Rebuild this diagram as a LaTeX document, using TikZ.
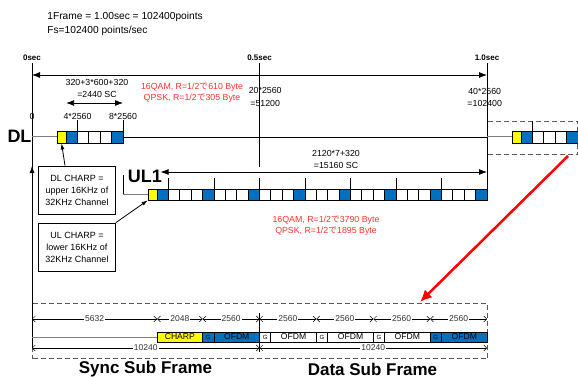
\documentclass[tikz,border=0pt]{standalone}
\usepackage{fontspec}
\setmainfont{Liberation Sans}
\newfontfamily\cjk{Noto Sans CJK JP}
\usepackage{tikz}
\usetikzlibrary{arrows.meta, positioning, calc}
\definecolor{fblue}{HTML}{0070C0}
\definecolor{fyellow}{HTML}{FFFF00}
\definecolor{fred}{HTML}{FF3030}
\definecolor{fgray}{HTML}{7F7F7F}
\definecolor{fdash}{HTML}{595959}

\begin{document}
\begin{tikzpicture}[x=1pt, y=-1pt, line width=0.8pt,
  hdr/.style={font=\fontsize{10.2}{12}\selectfont, anchor=west, inner sep=0pt},
  tsec/.style={font=\fontsize{8}{9}\selectfont\bfseries, inner sep=0pt},
  lbl/.style={font=\fontsize{8.8}{12.5}\selectfont, align=center, inner sep=0pt},
  redlbl/.style={font=\fontsize{8.8}{11}\selectfont, align=center, inner sep=0pt, text=fred},
  biglbl/.style={font=\fontsize{18}{20}\selectfont\bfseries, inner sep=0pt},
  note/.style={draw, font=\fontsize{9}{12}\selectfont, align=center, minimum width=77pt, minimum height=48pt, inner sep=0pt},
  ylw/.style={draw, fill=fyellow, minimum width=9.1pt, inner sep=0pt},
  dimarr/.style={line width=0.5pt, {Straight Barb[length=3pt,width=6pt]}-{Straight Barb[length=3pt,width=6pt]}},
  dimlbl/.style={font=\fontsize{8.5}{9}\selectfont, fill=white, inner sep=1pt, text=black!80},
  boxlbl/.style={font=\fontsize{8.6}{9}\selectfont, inner sep=0pt},
  glbl/.style={font=\fontsize{6}{7}\selectfont, inner sep=0pt},
  dashbox/.style={draw=fdash, dash pattern=on 5pt off 3pt, line width=1pt, inner sep=0pt, anchor=north west},
  dblarr/.style={{Latex[length=8pt,width=6pt]}-{Latex[length=8pt,width=6pt]}}
]
\useasboundingbox (0,0) rectangle (578,377);

\node[hdr] (frm) at (47,17) {1Frame = 1.00sec = 102400points};
\node[hdr] (fs) at (47,31) {Fs=102400 points/sec};

\node[dashbox, minimum width=90pt, minimum height=33pt] (zoombox) at (487,121) {};
\node[dashbox, minimum width=455pt, minimum height=55pt] (subbox) at (32,303) {};

% frame axis, 1 unit = 2560 points
\begin{scope}[shift={(32,0)}, x=11.375pt]
\node[tsec] (t0) at (0,58) {0sec};
\node[tsec] (t05) at (20,58) {0.5sec};
\node[tsec] (t10) at (40,58) {1.0sec};
\draw (0,63) -- (0,348);
\draw[-{Latex[length=7pt,width=5pt]}] (0,210) -- (0,166);
\draw (20,63) -- (20,167);
\draw (40,63) -- (40,200);
\draw[dblarr] (0,75) -- (40,75);
\draw[dblarr] (3,103) -- (8,103);
\node[lbl] (p0) at (0,116) {0};
\node[lbl] (p4) at (4,116) {4*2560};
\node[lbl] (p8) at (8,116) {8*2560};
\node[lbl] (p20) at (20.5,97) {20*2560\\=51200};
\node[lbl] (p40) at (39.8,97.5) {40*2560\\=102400};
% DL burst
\draw[fgray, line width=1pt] (0,137) -- (2.2,137);
\draw (8,137) -- (40,137);
\draw[fgray, line width=1pt] (40,137) -- (42.2,137);
\draw (4,120) -- (4,131);
\draw (8,120) -- (8,131);
\draw (44,121) -- (44,131);
\foreach \k/\c in {3/fblue,4/white,5/white,6/white,7/fblue,43/fblue,44/white,45/white,46/white,47/fblue}
  \filldraw[fill=\c] (\k,131) rectangle ({\k+1},143);
\node[ylw, minimum height=12pt] (dlyel) at (2.6,137) {};
\node[ylw, minimum height=12pt] (dlyel2) at (42.6,137) {};
% UL burst
\draw (8,175) -- (8,195);
\draw[fgray, line width=1pt] (8,194) -- (10.2,194);
\draw[dblarr] (11.3,172) -- (40,172);
\foreach \k in {12,16,...,36}
  \draw (\k,178) -- (\k,189);
\filldraw[fill=fblue] (11,189) rectangle (12,200);
\foreach \g in {12,16,...,36} {
  \foreach \k in {0,1,2}
    \filldraw[fill=white] ({\g+\k},189) rectangle ({\g+\k+1},200);
  \filldraw[fill=fblue] ({\g+3},189) rectangle ({\g+4},200);
}
\node[ylw, minimum height=11pt] (ulyel) at (10.6,194.5) {};
\end{scope}

\node[biglbl] (dl) at (19.5,136) {DL};
\node[biglbl] (ul) at (145,176) {UL1};
\node[lbl] (dlsc) at (97,88.5) {320+3*600+320\\=2440 SC};
\node[lbl] (ulsc) at (336,159.5) {2120*7+320\\=15160 SC};
\node[redlbl] (dlrate) at (192,92.5) {16QAM, R=1/2{\cjk で}610 Byte\\QPSK, R=1/2{\cjk で}305 Byte};
\node[redlbl] (ulrate) at (326,225.5) {16QAM, R=1/2{\cjk で}3790 Byte\\QPSK, R=1/2{\cjk で}1895 Byte};

\node[note] (dlnote) at (77,190) {DL CHARP =\\upper 16KHz of\\32KHz Channel};
\node[note] (ulnote) at (77,247) {UL CHARP =\\lower 16KHz of\\32KHz Channel};
\draw[-{Latex[length=6pt,width=4pt]}] ([xshift=-12pt]dlnote.north) -- (dlyel.south);
\draw[-{Latex[length=6pt,width=4pt]}] (ulnote.north east) -- (ulyel.south west);

\draw[red, line width=2.5pt, -{Latex[length=12pt,width=11pt]}]
  ($(zoombox.south east)+(-10,1)$) -- ($(subbox.north west)+(388,-1)$);

% sub frames, 1 unit = 512 points
\begin{scope}[shift={(32,0)}, x=11.375pt]
\draw (20,313) -- (20,352);
\draw[fgray, line width=1pt] (0,337) -- (11,337);
\foreach \a/\b/\t in {0/11/5632, 11/15/2048, 15/20/2560, 20/25/2560, 25/30/2560, 30/35/2560, 35/40/2560}
  \draw[dimarr] (\a,319) -- node[dimlbl] {\t} (\b,319);
\foreach \a/\b in {0/20, 20/40}
  \draw[dimarr] (\a,348) -- node[dimlbl] {10240} (\b,348);
\filldraw[fill=fyellow] (11,332) rectangle node[boxlbl] {CHARP} (15,342);
\foreach \a/\c in {15/fblue, 20/white, 25/white, 30/white, 35/fblue} {
  \filldraw[fill=\c] (\a,332) rectangle node[glbl] {G} ({\a+1},342);
  \filldraw[fill=\c] ({\a+1},332) rectangle node[boxlbl] {OFDM} ({\a+5},342);
}
\end{scope}

\node[biglbl, font=\fontsize{17}{20}\selectfont\bfseries] (sync) at (145.5,369) {Sync Sub Frame};
\node[biglbl, font=\fontsize{17}{20}\selectfont\bfseries] (data) at (372.5,369) {Data Sub Frame};
\end{tikzpicture}
\end{document}
